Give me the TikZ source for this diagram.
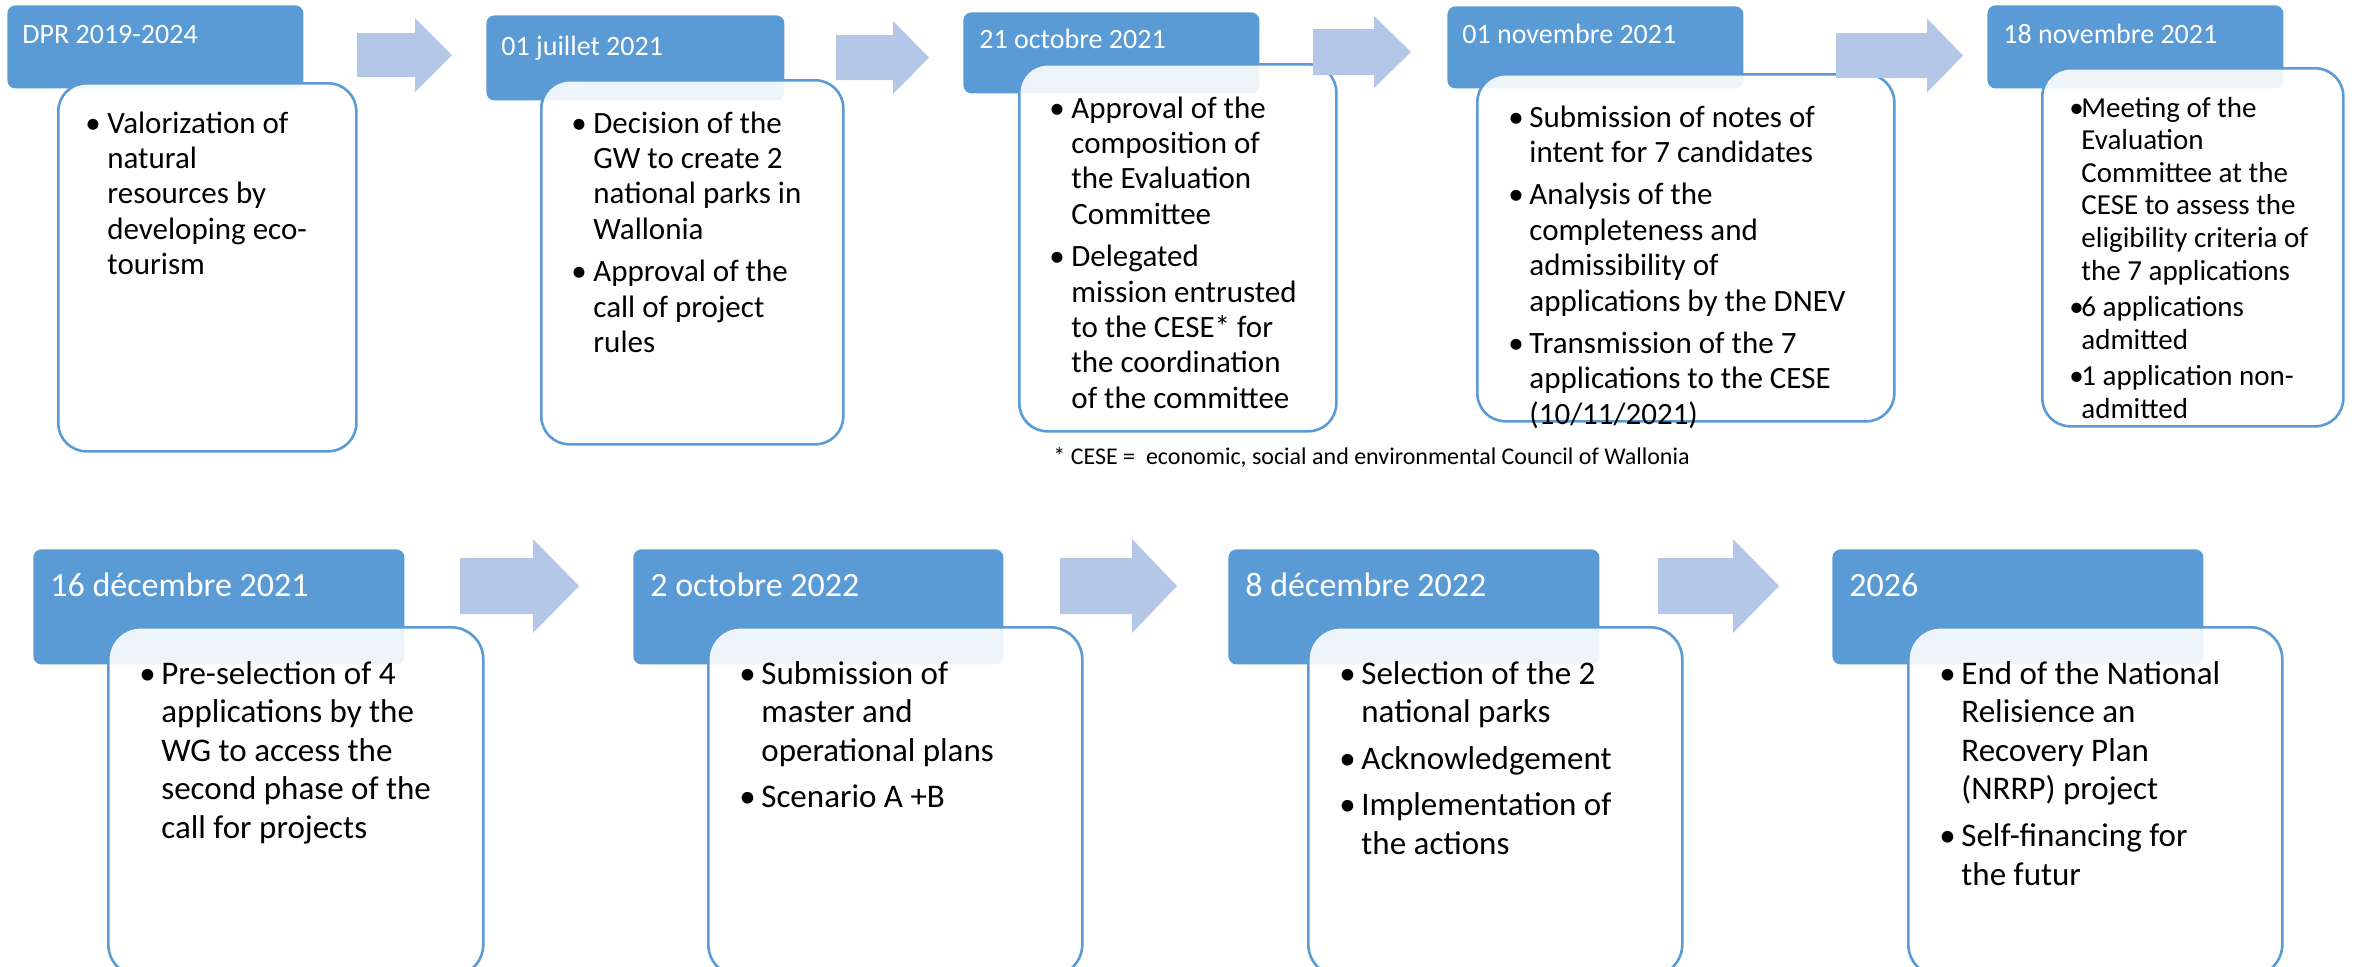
\documentclass[tikz,border=0pt]{standalone}
\usepackage{fontspec}
\setmainfont{Carlito}
\usepackage{xcolor}
\usepackage{tikz}

\definecolor{hdrblue}{HTML}{5B9BD5}
\definecolor{arrowblue}{HTML}{B4C7E7}

\newlength{\bulw}
\newcommand{\bitem}[1]{\par\hangindent=\bulw\hangafter=1\noindent\hbox to\bulw{\textbullet\hfil}#1}
\newcommand{\blist}[4]{\begin{minipage}[t]{#1}\raggedright\setlength{\bulw}{#2}\setlength{\parskip}{#3}#4\end{minipage}}

\begin{document}
\begin{tikzpicture}
    [x=0.5pt, y=-0.5pt,
    header/.style={rectangle,rounded corners=4pt,fill=hdrblue,inner sep=0pt,anchor=north west},
    card/.style={rectangle,rounded corners=14pt,draw=hdrblue,line width=1.3pt,fill=white,fill opacity=0.9,inner sep=0pt,anchor=north west},
    datetext/.style={anchor=base west,inner sep=0pt,text=white,font=\fontsize{14}{16}\selectfont},
    items/.style={anchor=base west,inner sep=0pt,font=\fontsize{15.5}{17.7}\selectfont},
    blockarrow/.style={fill=arrowblue}]

\useasboundingbox (0,0) rectangle (2354,966);

%top row: date headers and cards
\node[header,minimum width=148pt,minimum height=41.5pt] (h1) at (7,5) {};
\node[card,minimum width=149pt,minimum height=184pt] (c1) at (57,82) {};
\node[header,minimum width=149pt,minimum height=42.5pt] (h2) at (486,15) {};
\node[card,minimum width=151pt,minimum height=182pt] (c2) at (540,79) {};
\node[header,minimum width=148pt,minimum height=40.5pt] (h3) at (963,12) {};
\node[card,minimum width=158.5pt,minimum height=183.5pt] (c3) at (1018,63) {};
\node[header,minimum width=148pt,minimum height=41pt] (h4) at (1447,6) {};
\node[card,minimum width=208.5pt,minimum height=173.5pt] (c4) at (1476,73) {};
\node[header,minimum width=148pt,minimum height=41.5pt] (h5) at (1987,5) {};
\node[card,minimum width=150.5pt,minimum height=179pt] (c5) at (2041,67) {};

%bottom row
\node[header,minimum width=185.5pt,minimum height=57.5pt] (h6) at (33,549) {};
\node[card,rounded corners=16pt,minimum width=187.5pt,minimum height=174.5pt] (c6) at (107,626) {};
\node[header,minimum width=185pt,minimum height=57.5pt] (h7) at (633,549) {};
\node[card,rounded corners=16pt,minimum width=187pt,minimum height=174.5pt] (c7) at (707,626) {};
\node[header,minimum width=185.5pt,minimum height=57.5pt] (h8) at (1228,549) {};
\node[card,rounded corners=16pt,minimum width=187pt,minimum height=174.5pt] (c8) at (1307,626) {};
\node[header,minimum width=185.5pt,minimum height=57.5pt] (h9) at (1832,549) {};
\node[card,rounded corners=16pt,minimum width=187pt,minimum height=174.5pt] (c9) at (1907,626) {};

%block arrows between the steps
\foreach \xa/\xb/\xc/\ym/\sh/\hd in {357/415/452/55/22/37, 836/893/929/57.5/22.5/36.5,
    1313/1374/1411/52/23/36, 1836/1927/1963/55.5/22.5/37,
    460/533/579/586/28/47, 1060/1132/1177/586/28/47, 1658/1733/1779/586/28/47}
  \fill[blockarrow] (\xa,\ym-\sh) -- (\xb,\ym-\sh) -- (\xb,\ym-\hd) -- (\xc,\ym)
    -- (\xb,\ym+\hd) -- (\xb,\ym+\sh) -- (\xa,\ym+\sh) -- cycle;

%dates
\node[datetext] (d1) at ([shift={(15,38)}]h1.north west) {DPR 2019-2024};
\node[datetext] (d2) at ([shift={(15,40)}]h2.north west) {01 juillet 2021};
\node[datetext] (d3) at ([shift={(16,36)}]h3.north west) {21 octobre 2021};
\node[datetext] (d4) at ([shift={(15,37)}]h4.north west) {01 novembre 2021};
\node[datetext] (d5) at ([shift={(16,38)}]h5.north west) {18 novembre 2021};
\node[datetext,font=\fontsize{17}{19}\selectfont] (d6) at ([shift={(17,47)}]h6.north west) {16 décembre 2021};
\node[datetext,font=\fontsize{17}{19}\selectfont] (d7) at ([shift={(17,47)}]h7.north west) {2 octobre 2022};
\node[datetext,font=\fontsize{17}{19}\selectfont] (d8) at ([shift={(17,47)}]h8.north west) {8 décembre 2022};
\node[datetext,font=\fontsize{17}{19}\selectfont] (d9) at ([shift={(17,47)}]h9.north west) {2026};

%card texts
\node[items] (t1) at ([shift={(28,51)}]c1.north west) {\blist{130pt}{11pt}{3.5pt}{%
  \bitem{Valorization of\newline natural\newline resources by\newline developing eco-\newline tourism}}};
\node[items] (t2) at ([shift={(31,54)}]c2.north west) {\blist{130pt}{11pt}{3.5pt}{%
  \bitem{Decision of the\newline GW to create 2\newline national parks in\newline Wallonia}
  \bitem{Approval of the\newline call of project\newline rules}}};
\node[items] (t3) at ([shift={(31,55)}]c3.north west) {\blist{138pt}{11pt}{3.5pt}{%
  \bitem{Approval of the\newline composition of\newline the Evaluation\newline Committee}
  \bitem{Delegated\newline mission entrusted\newline to the CESE* for\newline the coordination\newline of the committee}}};
\node[items] (t4) at ([shift={(32,54)}]c4.north west) {\blist{182pt}{10.5pt}{3.5pt}{%
  \bitem{Submission of notes of\newline intent for 7 candidates}
  \bitem{Analysis of the\newline completeness and\newline admissibility of\newline applications by the DNEV}
  \bitem{Transmission of the 7\newline applications to the CESE\newline (10/11/2021)}}};
\node[items,font=\fontsize{14.5}{16.3}\selectfont] (t5) at ([shift={(28,50)}]c5.north west) {\blist{132pt}{6pt}{2pt}{%
  \bitem{Meeting of the\newline Evaluation\newline Committee at the\newline CESE to assess the\newline eligibility criteria of\newline the 7 applications}
  \bitem{6 applications\newline admitted}
  \bitem{1 application non-\newline admitted}}};
\node[items,font=\fontsize{16.5}{19.3}\selectfont] (t6) at ([shift={(32,58)}]c6.north west) {\blist{165pt}{11pt}{4pt}{%
  \bitem{Pre-selection of 4\newline applications by the\newline WG to access the\newline second phase of the\newline call for projects}}};
\node[items,font=\fontsize{16.5}{19.3}\selectfont] (t7) at ([shift={(32,58)}]c7.north west) {\blist{165pt}{11pt}{4pt}{%
  \bitem{Submission of\newline master and\newline operational plans}
  \bitem{Scenario A +B}}};
\node[items,font=\fontsize{16.5}{19.3}\selectfont] (t8) at ([shift={(32,58)}]c8.north west) {\blist{165pt}{11pt}{4pt}{%
  \bitem{Selection of the 2\newline national parks}
  \bitem{Acknowledgement}
  \bitem{Implementation of\newline the actions}}};
\node[items,font=\fontsize{16.5}{19.3}\selectfont] (t9) at ([shift={(32,58)}]c9.north west) {\blist{165pt}{11pt}{4pt}{%
  \bitem{End of the National\newline Relisience an\newline Recovery Plan\newline (NRRP) project}
  \bitem{Self-financing for\newline the futur}}};

%footnote
\node[anchor=base west,inner sep=0pt,font=\fontsize{12}{14}\selectfont] (note) at (1053,464)
  {* CESE =\ \ economic, social and environmental Council of Wallonia};

\end{tikzpicture}
\end{document}
